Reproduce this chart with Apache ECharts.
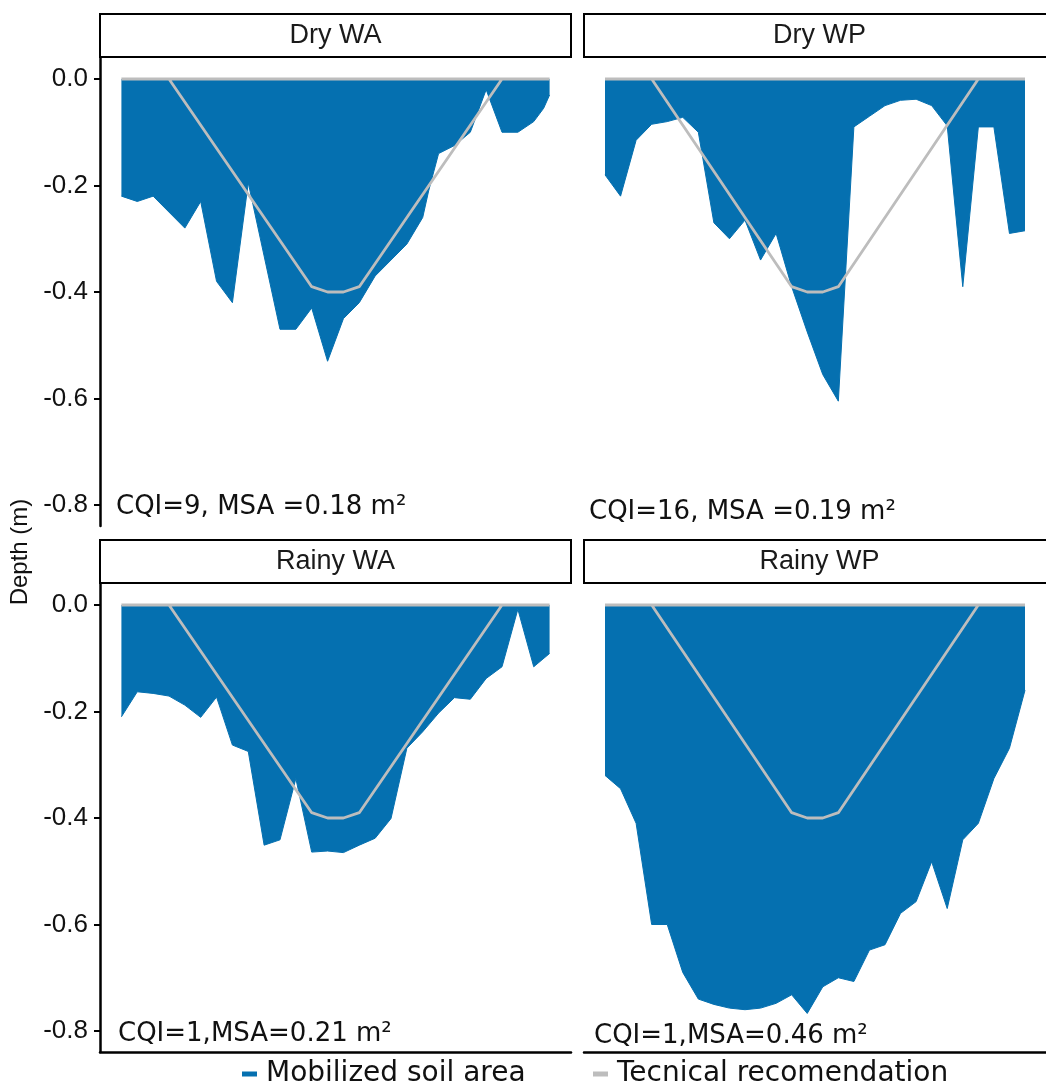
<!DOCTYPE html>
<html><head><meta charset="utf-8">
<script src="https://cdn.jsdelivr.net/npm/echarts@6/dist/echarts.min.js"></script>
<style>html,body{margin:0;padding:0;background:#fff}#c{width:1046px;height:1082px}</style>
</head><body><div id="c"></div>
<script>
// ---------- DATA ----------
const panelNames = ['Dry WA', 'Dry WP', 'Rainy WA', 'Rainy WP'];
const annotations = ['CQI=9, MSA =0.18 m²', 'CQI=16, MSA =0.19 m²', 'CQI=1,MSA=0.21 m²', 'CQI=1,MSA=0.46 m²'];
const yTicks = [0, -0.2, -0.4, -0.6, -0.8];
const seriesNames = ['Mobilized soil area', 'Tecnical recomendation'];

const xDryWA = [-0.54,-0.50,-0.46,-0.38,-0.34,-0.30,-0.26,-0.22,-0.14,-0.10,-0.06,-0.02,0.02,0.06,0.10,0.14,0.18,0.22,0.235,0.26,0.30,0.34,0.38,0.42,0.46,0.50,0.525,0.54];
const yDryWA = [-0.22,-0.23,-0.22,-0.28,-0.23,-0.38,-0.42,-0.195,-0.47,-0.47,-0.43,-0.53,-0.45,-0.42,-0.37,-0.34,-0.31,-0.26,-0.21,-0.14,-0.125,-0.10,-0.02,-0.10,-0.10,-0.08,-0.055,-0.03];

const xDryWP = [-0.54,-0.50,-0.46,-0.42,-0.38,-0.34,-0.30,-0.26,-0.22,-0.18,-0.14,-0.10,-0.06,-0.02,0.02,0.06,0.10,0.14,0.18,0.22,0.26,0.30,0.34,0.38,0.42,0.46,0.50,0.54];
const yDryWP = [-0.18,-0.22,-0.115,-0.085,-0.08,-0.072,-0.10,-0.27,-0.30,-0.265,-0.34,-0.29,-0.39,-0.475,-0.555,-0.605,-0.09,-0.07,-0.05,-0.04,-0.038,-0.05,-0.088,-0.39,-0.09,-0.09,-0.29,-0.285];

const xRainyWA = [-0.54,-0.50,-0.46,-0.42,-0.38,-0.34,-0.30,-0.26,-0.22,-0.18,-0.14,-0.10,-0.06,-0.02,0.02,0.06,0.10,0.14,0.18,0.22,0.26,0.30,0.34,0.38,0.42,0.46,0.50,0.54];
const yRainyWA = [-0.21,-0.163,-0.166,-0.171,-0.188,-0.211,-0.173,-0.263,-0.275,-0.451,-0.441,-0.326,-0.464,-0.462,-0.465,-0.451,-0.438,-0.401,-0.269,-0.238,-0.203,-0.174,-0.177,-0.138,-0.116,-0.008,-0.116,-0.091];

const xRainyWP = [-0.54,-0.50,-0.46,-0.42,-0.38,-0.34,-0.30,-0.26,-0.22,-0.18,-0.14,-0.10,-0.06,-0.02,0.02,0.06,0.10,0.14,0.18,0.22,0.26,0.30,0.34,0.38,0.42,0.46,0.50,0.54];
const yRainyWP = [-0.32,-0.345,-0.41,-0.60,-0.60,-0.69,-0.74,-0.75,-0.757,-0.76,-0.757,-0.748,-0.732,-0.767,-0.717,-0.70,-0.707,-0.648,-0.638,-0.579,-0.557,-0.482,-0.57,-0.441,-0.41,-0.326,-0.269,-0.16];

const xTech = [-0.54,-0.42,-0.06,-0.02,0.02,0.06,0.42,0.54,-0.54];
const yTech = [0,0,-0.39,-0.40,-0.40,-0.39,0,0,0];

// ---------- BUILD ----------
const profilesX = [xDryWA, xDryWP, xRainyWA, xRainyWP];
const profilesY = [yDryWA, yDryWP, yRainyWA, yRainyWP];
const zip = (xs, ys) => xs.map((x, i) => [x, ys[i]]);

const BLUE = '#0570b0', GRAY = '#bdbdbd';
const gridPos = [
  {left: 100, top: 57}, {left: 584, top: 57},
  {left: 100, top: 583}, {left: 584, top: 583}
];
const GW = 471, GH = 469;
const Y_MIN = -0.8394, Y_MAX = 0.0413;
const X_MIN = -0.594, X_MAX = 0.594;

const grids = [], xAxes = [], yAxes = [], series = [], graphics = [];
const annPos = [[116, 507], [589, 512], [118, 1034], [594, 1036]];

for (let i = 0; i < 4; i++) {
  const isLeft = i % 2 === 0, isBottom = i >= 2;
  grids.push({left: gridPos[i].left, top: gridPos[i].top, width: GW, height: GH, containLabel: false});
  xAxes.push({
    type: 'value', gridIndex: i, min: X_MIN, max: X_MAX,
    show: isBottom,
    axisLine: {show: true, onZero: false, lineStyle: {color: '#000', width: 2.5}},
    axisTick: {show: false}, axisLabel: {show: false}, splitLine: {show: false}
  });
  yAxes.push({
    type: 'value', gridIndex: i, min: Y_MIN, max: Y_MAX,
    show: isLeft,
    axisLine: {show: true, onZero: false, lineStyle: {color: '#000', width: 2.5}},
    axisTick: {show: true, length: 6, customValues: yTicks, lineStyle: {color: '#000', width: 2}},
    axisLabel: {show: true, customValues: yTicks, margin: 12, formatter: v => Number(v).toFixed(1),
      fontSize: 26, color: '#111', fontFamily: 'Liberation Sans'},
    splitLine: {show: false}
  });
  series.push({
    name: seriesNames[0], type: 'line', xAxisIndex: i, yAxisIndex: i,
    data: zip(profilesX[i], profilesY[i]), symbol: 'none', silent: true,
    itemStyle: {color: BLUE}, lineStyle: {color: BLUE, width: 1},
    areaStyle: {color: BLUE, opacity: 1, origin: 'auto'}, z: 2
  });
  series.push({
    name: seriesNames[1], type: 'line', xAxisIndex: i, yAxisIndex: i,
    data: zip(xTech, yTech), symbol: 'none', silent: true,
    itemStyle: {color: GRAY}, lineStyle: {color: GRAY, width: 2.8}, z: 3
  });
  // strip
  graphics.push({
    type: 'rect', shape: {x: gridPos[i].left, y: gridPos[i].top - 43, width: GW, height: 43},
    style: {fill: '#fff', stroke: '#000', lineWidth: 2}, z: 10
  });
  graphics.push({
    type: 'text', x: gridPos[i].left + GW / 2, y: gridPos[i].top - 21.5, z: 11,
    style: {text: panelNames[i], align: 'center', verticalAlign: 'middle', fontSize: 27,
      fontFamily: 'Liberation Sans', fill: '#1a1a1a'}
  });
  graphics.push({
    type: 'text', x: annPos[i][0], y: annPos[i][1], z: 11,
    style: {text: annotations[i], align: 'left', verticalAlign: 'middle', fontSize: 26,
      fontFamily: 'DejaVu Sans', fill: '#111'}
  });
}
graphics.push({
  type: 'text', x: 20, y: 552, rotation: Math.PI / 2, z: 11,
  style: {text: 'Depth (m)', align: 'center', verticalAlign: 'middle', fontSize: 24,
    fontFamily: 'Liberation Sans', fill: '#111'}
});

const legendBase = {
  top: 1055, icon: 'rect', itemWidth: 15, itemHeight: 5, selectedMode: false,
  textStyle: {fontSize: 28, fontFamily: 'DejaVu Sans', color: '#111', padding: [0, 0, 0, 4]}
};

const chart = echarts.init(document.getElementById('c'), null, {renderer: 'canvas'});
chart.setOption({
  animation: false,
  backgroundColor: '#fff',
  grid: grids, xAxis: xAxes, yAxis: yAxes, series: series,
  legend: [
    Object.assign({}, legendBase, {left: 237, data: [seriesNames[0]]}),
    Object.assign({}, legendBase, {left: 588, data: [seriesNames[1]]})
  ],
  graphic: graphics
});
</script>
</body></html>
